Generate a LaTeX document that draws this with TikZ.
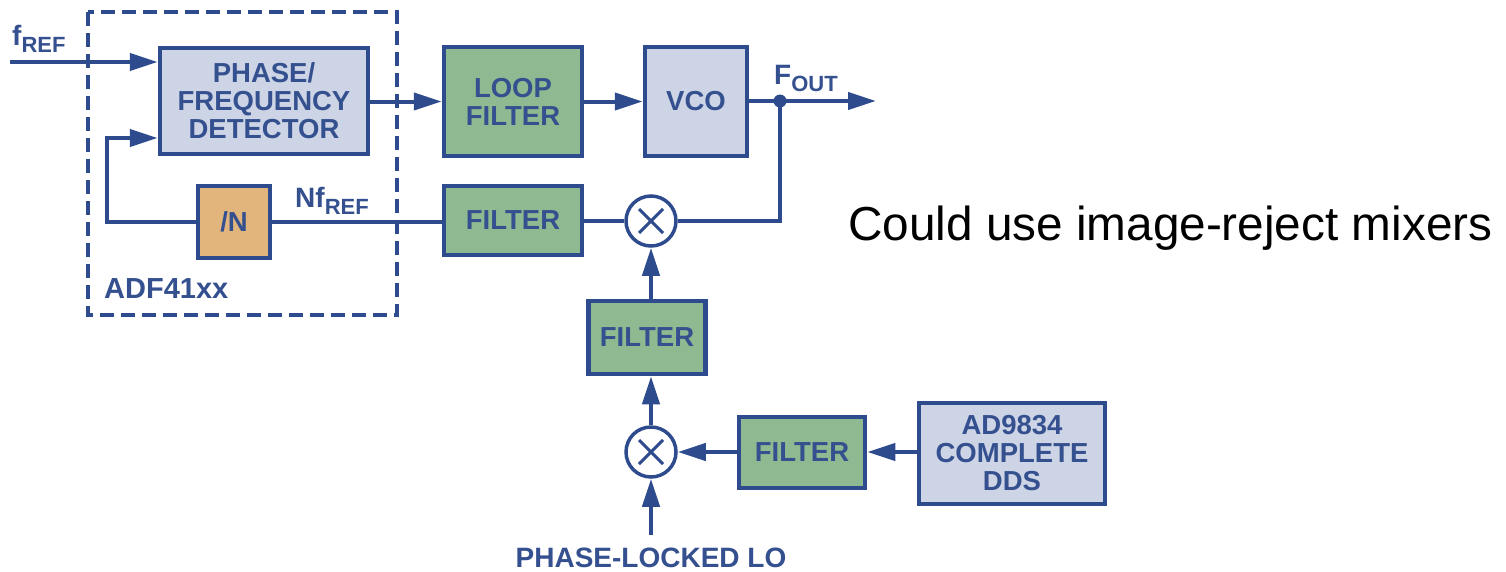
\documentclass[tikz,border=0pt]{standalone}
\usepackage{fontspec}
\setmainfont{Liberation Sans}
\usetikzlibrary{arrows.meta}
\definecolor{adblue}{HTML}{2E4B8D}
\definecolor{adtext}{HTML}{34508F}
\definecolor{adlight}{HTML}{CDD4E5}
\definecolor{adgreen}{HTML}{8FBA91}
\definecolor{adorange}{HTML}{E2B57C}
\tikzset{
  blk/.style={draw=adblue, line width=4.5pt, rectangle, inner sep=0pt, align=center,
    text=adtext, font=\fontsize{27.5}{28}\selectfont\bfseries},
  lightblk/.style={blk, fill=adlight},
  greenblk/.style={blk, fill=adgreen},
  orangeblk/.style={blk, fill=adorange},
  wire/.style={draw=adblue, line width=4pt},
  arr/.style={wire, -{Triangle[length=28pt,width=17pt]}},
  mixer/.style={draw=adblue, line width=3.5pt, circle, fill=white, minimum size=50pt, inner sep=0pt},
  lbl/.style={text=adtext, font=\fontsize{28}{28}\selectfont\bfseries, inner sep=0pt},
}
\newcommand{\mixcross}[1]{\draw[adblue, line width=3pt, shift={(#1.center)}] (-12,-12) -- (12,12) (-12,12) -- (12,-12);}
\begin{document}
\begin{tikzpicture}[x=1pt, y=-1pt]
\useasboundingbox (0,0) rectangle (1506,571);
% dashed ADF41xx outline
\draw[adblue, line width=4pt, dash pattern=on 14pt off 7pt] (88,12) rectangle (397,315);
% blocks
\node[lightblk, minimum width=208pt, minimum height=106pt] (pfd) at (264,101) {PHASE/\\FREQUENCY\\DETECTOR};
\node[greenblk, minimum width=138pt, minimum height=109pt] (loop) at (513,101.5) {LOOP\\FILTER};
\node[lightblk, minimum width=102pt, minimum height=109pt] (vco) at (696,101.5) {VCO};
\node[orangeblk, minimum width=72pt, minimum height=72pt] (divn) at (234,222) {/N};
\node[greenblk, minimum width=138pt, minimum height=69pt] (fmid) at (513,220.5) {FILTER};
\node[mixer] (mix1) at (651,221) {};
\node[greenblk, minimum width=117pt, minimum height=73pt] (fvert) at (647,337.5) {FILTER};
\node[mixer] (mix2) at (651,452) {};
\node[greenblk, minimum width=126pt, minimum height=71pt] (fbot) at (802,452.5) {FILTER};
\node[lightblk, minimum width=186pt, minimum height=101pt] (dds) at (1012,453.5) {AD9834\\COMPLETE\\DDS};
\mixcross{mix1}
\mixcross{mix2}
% labels
\node[lbl, anchor=base west] (fref) at (12,45) {f\raisebox{-7pt}{\fontsize{22}{22}\selectfont REF}};
\node[lbl, anchor=base west] (nfref) at (295,207) {Nf\raisebox{-7pt}{\fontsize{22}{22}\selectfont REF}};
\node[lbl, anchor=base west] (fout) at (774,84) {F\raisebox{-7pt}{\fontsize{22}{22}\selectfont OUT}};
\node[lbl, anchor=base west, font=\fontsize{29}{29}\selectfont\bfseries] (adf) at (104,298) {ADF41xx};
\node[lbl, anchor=base] (plo) at (651,567) {PHASE-LOCKED LO};
\node[anchor=base west, inner sep=0pt, font=\fontsize{47.7}{48}\selectfont, text=black] (note) at (848,240) {Could use image-reject mixers};
% coordinates
\coordinate (fin) at (10,62);
\coordinate (fbk) at (107,138);
\coordinate (dot) at (780,101);
\coordinate (outend) at (876,101);
\coordinate (lo) at (651,535);
% connectors
\draw[arr] (fin) -- (fin -| pfd.west);
\draw[arr] (divn.west) -| (fbk) -- (fbk -| pfd.west);
\draw[arr] (pfd.east |- loop.west) -- (loop.west);
\draw[arr] (loop.east) -- (vco.west);
\draw[wire] (vco.east |- dot) -- (dot);
\draw[arr] (dot) -- (outend);
\draw[wire] (divn.east) -- (divn.east -| fmid.west);
\draw[wire] (fmid.east |- mix1) -- (mix1.west);
\draw[wire] (mix1.east) -| (dot);
\fill[adblue] (dot) circle (6.5pt);
\draw[arr] (mix1 |- fvert.north) -- (mix1.south);
\draw[arr] (mix2.north) -- (mix2 |- fvert.south);
\draw[arr] (fbot.west |- mix2) -- (mix2.east);
\draw[arr] (dds.west |- mix2) -- (fbot.east |- mix2);
\draw[arr] (lo) -- (mix2.south);
\end{tikzpicture}
\end{document}
